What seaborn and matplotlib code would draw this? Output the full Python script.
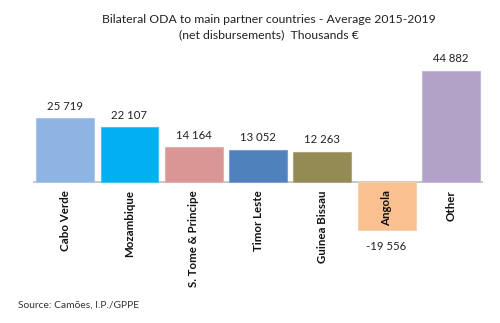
import matplotlib
matplotlib.use("Agg")
import matplotlib.pyplot as plt
import matplotlib.transforms as mtransforms
import seaborn as sns
import pandas as pd

categories = ["Cabo Verde", "Mozambique", "S. Tome & Principe", "Timor Leste",
              "Guinea Bissau", "Angola", "Other"]
values = [25719, 22107, 14164, 13052, 12263, -19556, 44882]
value_labels = ["25 719", "22 107", "14 164", "13 052", "12 263", "-19 556", "44 882"]
colors = ["#8EB4E3", "#00B0F0", "#D99694", "#4F81BD", "#948A54", "#FAC090", "#B3A2C7"]
edge_colors = ["#A9C6EA", "#40C4F4", "#E3B0AE", "#7BA0CD", "#ADA67F", "#FBD0AC", "#C6B9D6"]

sns.set_theme(style="white")
plt.rcParams['font.family'] = ['Lato', 'DejaVu Sans']

df = pd.DataFrame({"country": categories, "value": values})

fig = plt.figure(figsize=(5.0, 3.23), dpi=100)
ax = fig.add_axes([0.066, 0.257, 0.9, 0.557])
sns.barplot(data=df, x="country", y="value", hue="country", palette=colors,
            width=0.9, legend=False, ax=ax, saturation=1)
for p, ec in zip(ax.patches, edge_colors):
    p.set_edgecolor(ec)
    p.set_linewidth(0.8)

ax.set_xlim(-0.5, len(categories) - 0.5)
ax.set_ylim(-23415, 49253)
ax.axhline(0, color="#BFBFBF", lw=1.2, zorder=0.5)
for s in ax.spines.values():
    s.set_visible(False)
ax.set_xticks([])
ax.set_yticks([])
ax.set_xlabel("")
ax.set_ylabel("")

for i, (v, lab) in enumerate(zip(values, value_labels)):
    if v >= 0:
        ax.annotate(lab, xy=(i, v), xytext=(0, 8.6), textcoords="offset points",
                    ha="center", va="center", fontsize=8.2, color="#222222")
    else:
        ax.annotate(lab, xy=(i, v), xytext=(0, -11.5), textcoords="offset points",
                    ha="center", va="center", fontsize=8.2, color="#222222")

offset = mtransforms.ScaledTranslation(0, -6 / 72, fig.dpi_scale_trans)
for i, c in enumerate(categories):
    ax.text(i, 0, c, rotation=90, ha="center", va="top", fontsize=8.3,
            fontweight="bold", color="#111111", transform=ax.transData + offset)

fig.text(0.538, 0.941, "Bilateral ODA to main partner countries - Average 2015-2019",
         ha="center", va="center", fontsize=8.8, color="#222222")
fig.text(0.538, 0.892, "(net disbursements)  Thousands €",
         ha="center", va="center", fontsize=8.8, color="#222222")
fig.text(0.036, 0.056, "Source: Camões, I.P./GPPE", ha="left", va="center",
         fontsize=7.4, color="#333333")

fig.savefig("out.png", dpi=100)
